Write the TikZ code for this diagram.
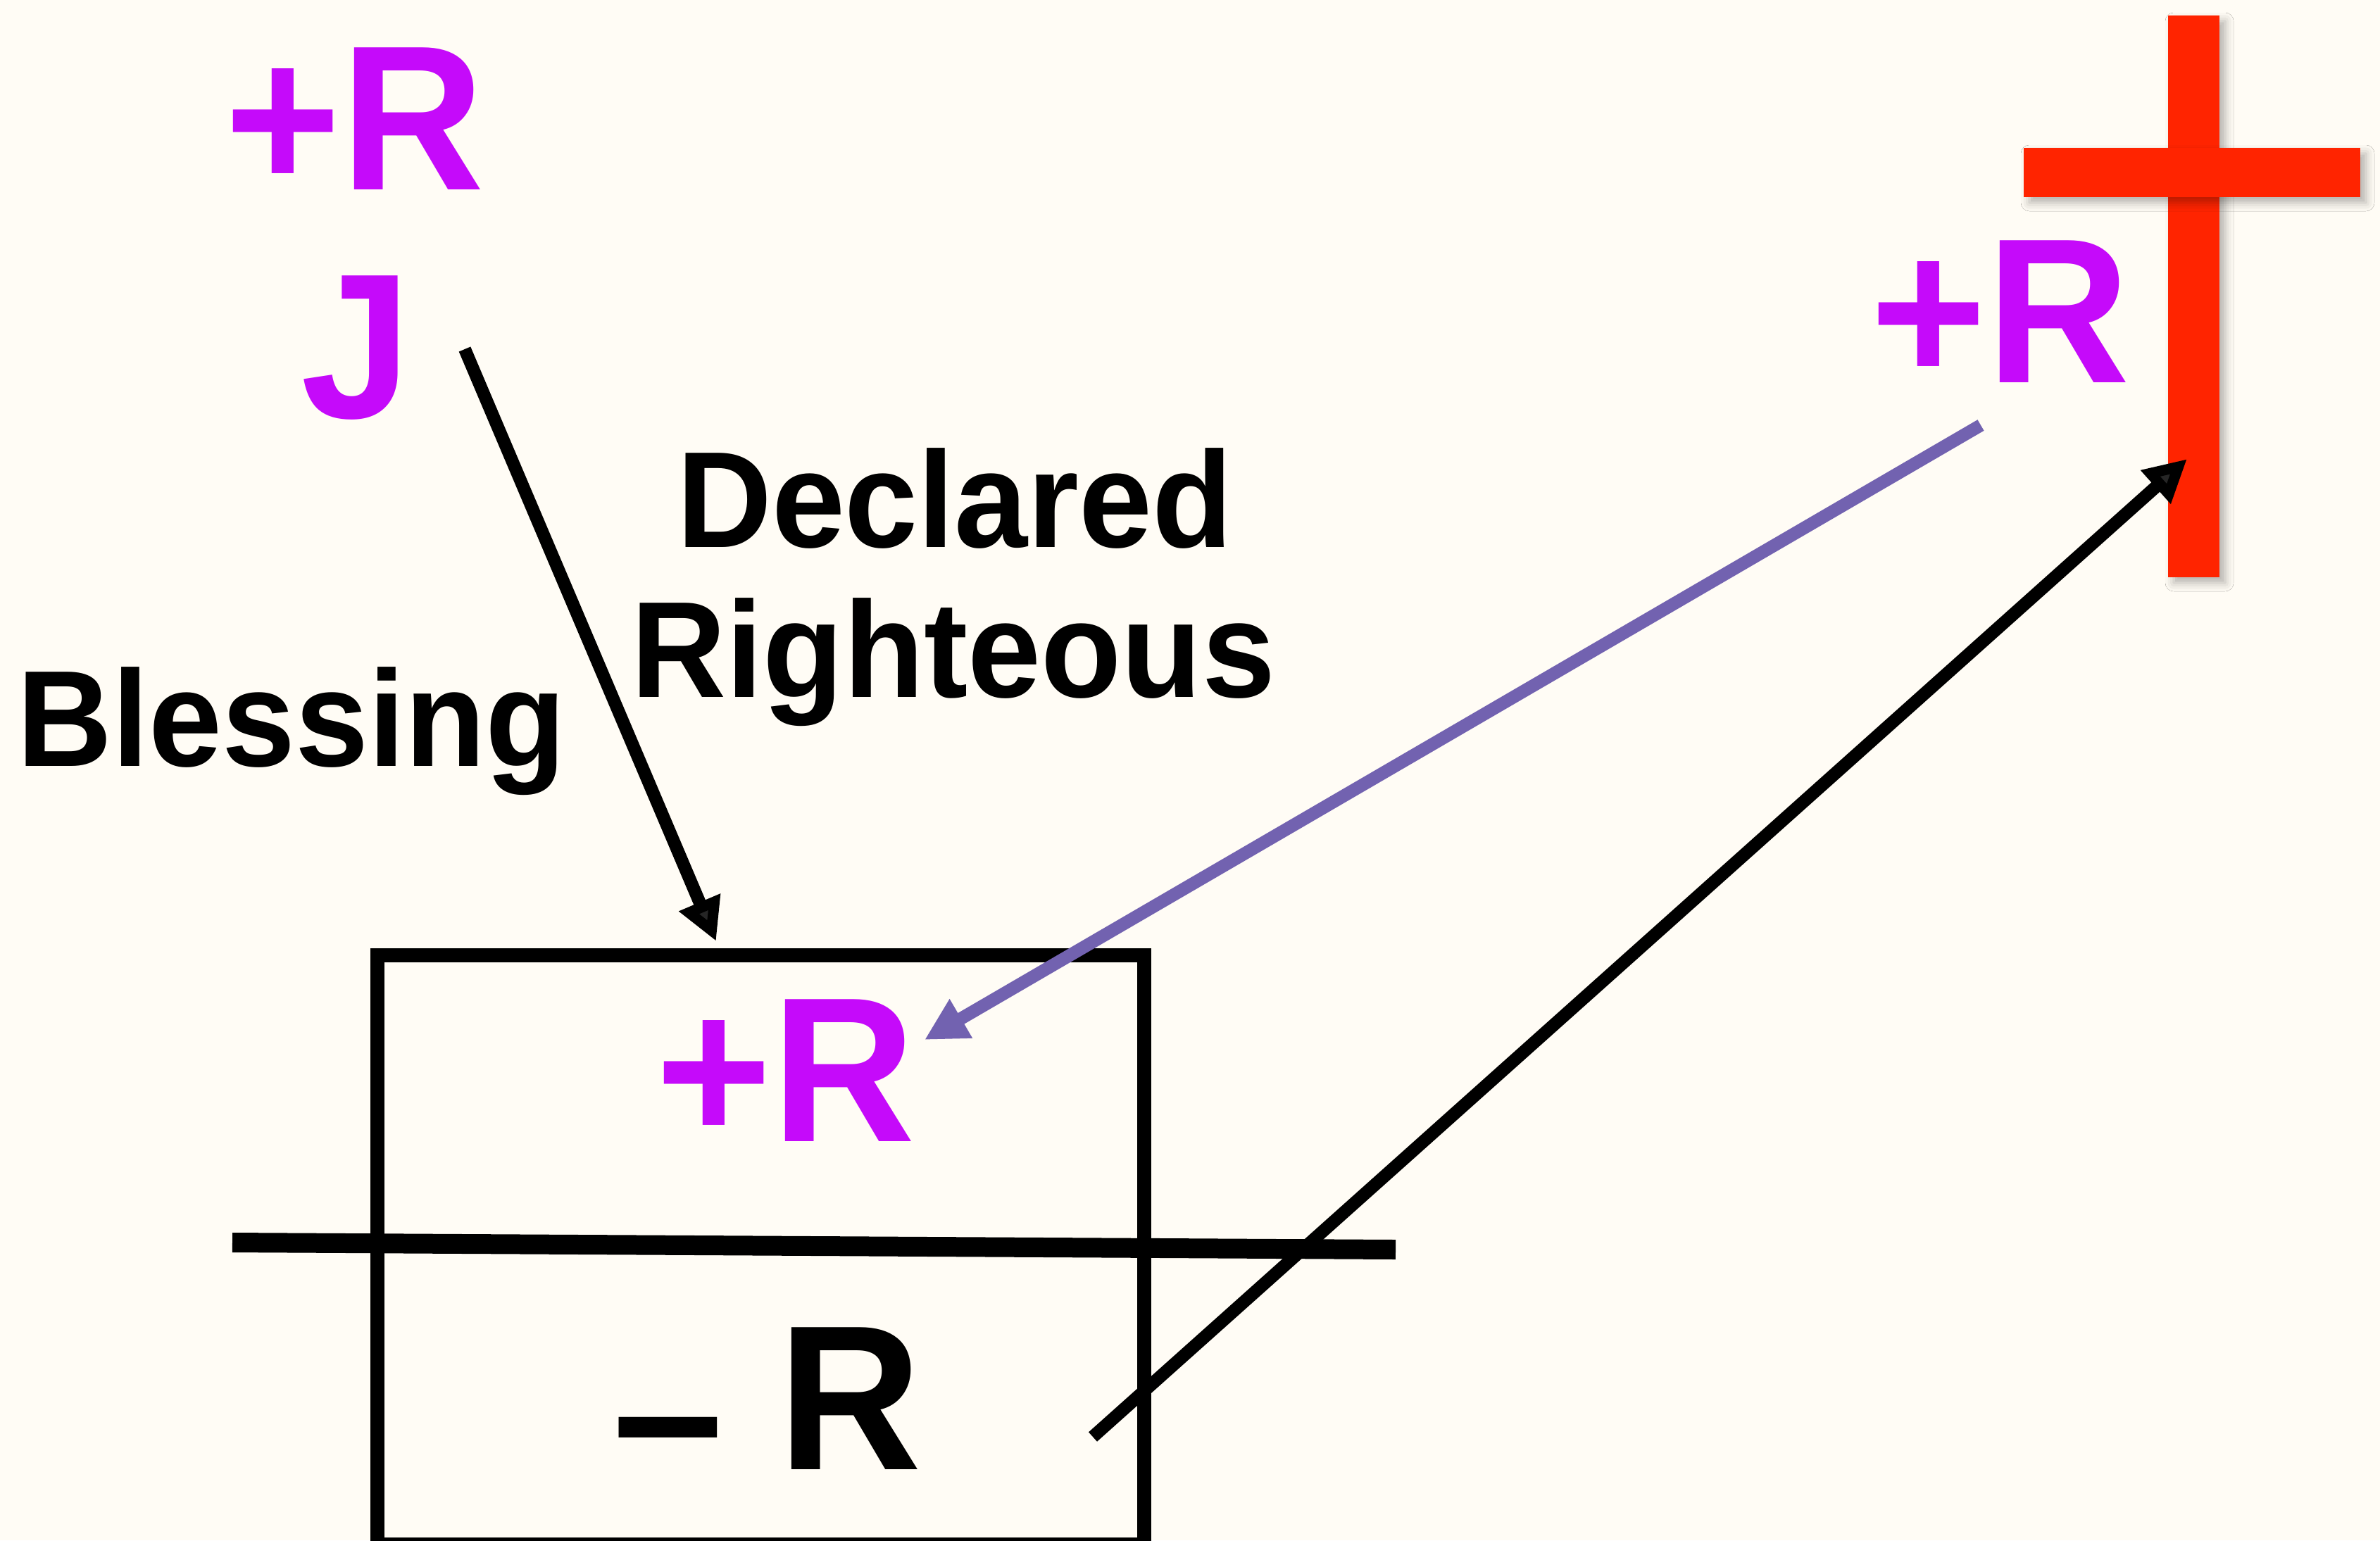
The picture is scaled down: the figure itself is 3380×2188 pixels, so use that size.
\documentclass[tikz,border=0pt]{standalone}
\usepackage{fontspec}
\setmainfont{Liberation Sans}
\usetikzlibrary{arrows.meta,shadows.blur}
\definecolor{bg}{RGB}{255,252,245}
\definecolor{rpurple}{RGB}{197,10,250}
\definecolor{apurple}{RGB}{114,98,176}
\definecolor{crossred}{RGB}{255,36,0}
\newcommand{\vstretch}[1]{\scalebox{1}[1.04]{#1}}
\begin{document}
\begin{tikzpicture}[x=1pt,y=-1pt,
  big/.style={font=\fontsize{282}{300}\selectfont\bfseries, inner sep=0pt, anchor=base},
  mid/.style={font=\fontsize{187}{214}\selectfont\bfseries, inner sep=0pt, anchor=base},
  arr/.style={line width=18pt, -{Triangle[length=60pt,width=60pt]}},
  crossbar/.style={fill=crossred, blur shadow={shadow xshift=8pt, shadow yshift=-8pt, shadow blur radius=12pt, shadow opacity=30}}]
\fill[bg] (0,0) rectangle (3380,2188);
\useasboundingbox (0,0) rectangle (3380,2188);
\clip (0,0) rectangle (3380,2188);
% cross
\path[crossbar] (3079,22) rectangle (3152,820);
\path[crossbar] (2874,210) rectangle (3352,280);
% texts
\node[big, text=rpurple] (topR) at (504,269) {\vstretch{+R}};
\node[big, text=rpurple] (J) at (506,593) {\vstretch{J}};
\node[big, text=rpurple] (crossR) at (2841,543) {\vstretch{+R}};
\node[big, text=rpurple] (boxR) at (1116,1621) {\vstretch{+R}};
\node[big] (minusR) at (1090,2087) {\vstretch{\raisebox{-19pt}{–} R}};
\node[mid] (declared) at (1356,777) {\vstretch{Declared}};
\node[mid] (righteous) at (1354,990) {\vstretch{Righteous}};
\node[mid] (blessing) at (414,1088) {\vstretch{Blessing}};
% box and line
\node[draw, line width=20pt, outer sep=0pt, inner sep=0pt, minimum width=1089pt, minimum height=837pt, anchor=north west] (box) at (536,1357) {};
\coordinate (lineL) at (330,1765);
\coordinate (lineR) at (1982,1775);
\draw[line width=28pt] (lineL) -- (lineR);
% arrows
\coordinate (jtail) at (660,496);
\coordinate (jtip) at (1017,1337);
\coordinate (ptail) at (2813,604);
\coordinate (ptip) at (1313,1477);
\coordinate (btail) at (1552,2041);
\coordinate (btip) at (3106,652);
\draw[arr] (jtail) -- (jtip);
\draw[arr, color=apurple] (ptail) -- (ptip);
\draw[arr] (btail) -- (btip);
\end{tikzpicture}
\end{document}
